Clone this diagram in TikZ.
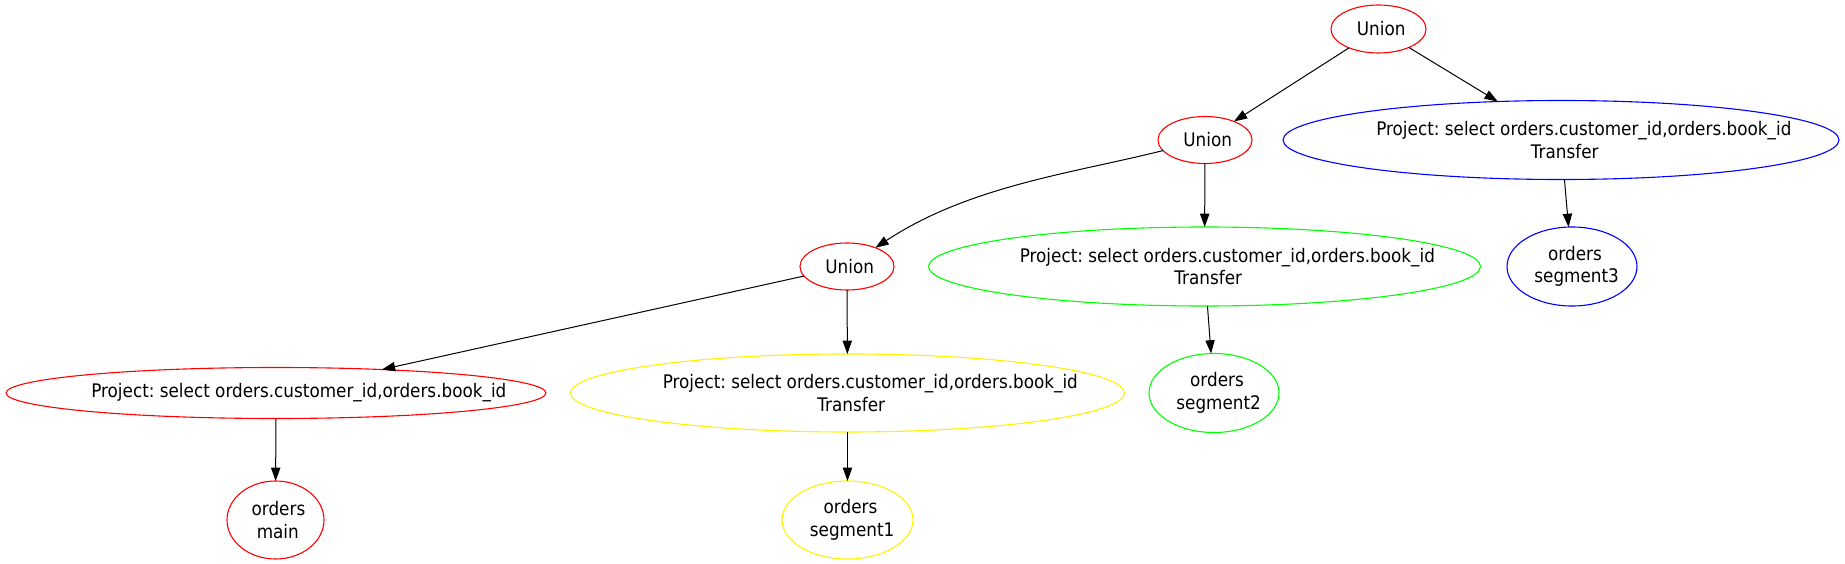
\documentclass[tikz,border=0pt]{standalone}
\usepackage{fontspec}
\setmainfont{DejaVu Sans}[FakeStretch=0.9]
\usetikzlibrary{arrows.meta,shapes.geometric}
\newlength\gvw
\newcommand\gvl[1]{\settowidth\gvw{#1}\hspace*{0.11\gvw}#1}
\frenchspacing
\tikzset{
  gv/.style={ellipse, draw, line width=1.1pt, inner sep=0pt, outer sep=0pt},
  gvtext/.style={align=center, font=\fontsize{18.7}{22.5}\selectfont, inner sep=0pt, text=black},
  edge/.style={draw=black, line width=1pt, -{Triangle[length=13.3pt,width=9.3pt]}}
}
\begin{document}
\begin{tikzpicture}[x=1pt,y=-1pt]
\useasboundingbox (0,0) rectangle (1845,564);
% rank 0
\node[gv, draw=red, minimum width=95pt, minimum height=48pt,
  label={[gvtext]center:{\gvl{Union}}}] (u1) at (1378.5,29) {};
% rank 1
\node[gv, draw=red, minimum width=94pt, minimum height=47pt,
  label={[gvtext]center:{\gvl{Union}}}] (u2) at (1205,140) {};
\node[gv, draw=blue, minimum width=556pt, minimum height=79pt,
  label={[gvtext]center:{\gvl{Project: select orders.customer\_id,orders.book\_id}\\\gvl{Transfer}}}] (blue) at (1561,140) {};
% rank 2
\node[gv, draw=red, minimum width=94pt, minimum height=47pt,
  label={[gvtext]center:{\gvl{Union}}}] (u3) at (847,266.5) {};
\node[gv, draw=green, minimum width=552pt, minimum height=79pt,
  label={[gvtext]center:{\gvl{Project: select orders.customer\_id,orders.book\_id}\\\gvl{Transfer}}}] (green) at (1204.5,266.5) {};
\node[gv, draw=blue, minimum width=130pt, minimum height=79pt,
  label={[gvtext]center:{\gvl{orders}\\\gvl{segment3}}}] (seg3) at (1572,266.5) {};
% rank 3
\node[gv, draw=red, minimum width=540pt, minimum height=51pt,
  label={[gvtext]center:{\gvl{Project: select orders.customer\_id,orders.book\_id}}}] (red) at (276,393) {};
\node[gv, draw=yellow, minimum width=554pt, minimum height=78pt,
  label={[gvtext]center:{\gvl{Project: select orders.customer\_id,orders.book\_id}\\\gvl{Transfer}}}] (yellow) at (847.5,393) {};
\node[gv, draw=green, minimum width=130pt, minimum height=79pt,
  label={[gvtext]center:{\gvl{orders}\\\gvl{segment2}}}] (seg2) at (1214,393) {};
% rank 4
\node[gv, draw=red, minimum width=97pt, minimum height=78pt,
  label={[gvtext]center:{\gvl{orders}\\\gvl{main}}}] (main) at (275.5,520) {};
\node[gv, draw=yellow, minimum width=131pt, minimum height=78pt,
  label={[gvtext]center:{\gvl{orders}\\\gvl{segment1}}}] (seg1) at (847.5,520) {};
% edges
\draw[edge] (u1) -- (u2);
\draw[edge] (u1) -- (blue);
\draw[edge] (u2) .. controls (1073,173.2) and (969.5,185.7) .. (u3);
\draw[edge] (u2) -- (green);
\draw[edge] (blue) -- (seg3);
\draw[edge] (u3) -- (red);
\draw[edge] (u3) -- (yellow);
\draw[edge] (green) -- (seg2);
\draw[edge] (red) -- (main);
\draw[edge] (yellow) -- (seg1);
\end{tikzpicture}
\end{document}
